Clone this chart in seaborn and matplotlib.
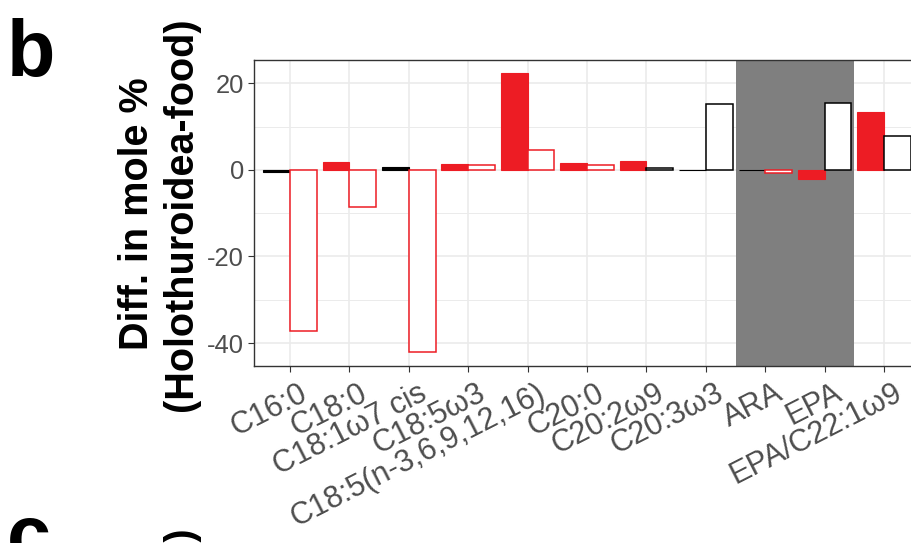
import matplotlib
matplotlib.use("Agg")
import matplotlib.pyplot as plt
from matplotlib.ticker import MultipleLocator
from matplotlib.transforms import ScaledTranslation
import seaborn as sns
import pandas as pd

categories = ["C16:0", "C18:0", "C18:1ω7 cis", "C18:5ω3", "C18:5(n-3,6,9,12,16)",
              "C20:0", "C20:2ω9", "C20:3ω3", "ARA", "EPA", "EPA/C22:1ω9"]
filled_vals = [-0.4, 1.8, 0.6, 1.45, 22.3, 1.6, 2.15, 0.05, 0.05, -2.1, 13.3]
hollow_vals = [-37.1, -8.6, -42.0, 1.15, 4.7, 1.1, 0.5, 15.2, -0.6, 15.4, 7.8]
filled_sig = [False, True, False, True, True, True, True, False, False, True, True]
hollow_sig = [True, True, True, True, True, True, False, False, True, False, False]
shaded_cats = ["ARA", "EPA"]
yticks = [-40, -20, 0, 20]

RED = "#ED1C24"
sns.set_theme(style="white")
plt.rcParams["font.family"] = ["Liberation Sans", "DejaVu Sans"]

df = pd.DataFrame({
    "cat": categories * 2,
    "series": ["filled"] * len(categories) + ["hollow"] * len(categories),
    "value": filled_vals + hollow_vals,
})

fig = plt.figure(figsize=(9.12, 5.43), dpi=100)
ax = fig.add_axes([254 / 912, 1 - 366 / 543, 1 - 254 / 912, (366 - 60) / 543])
ax.set_facecolor("white")

sns.barplot(data=df, x="cat", y="value", hue="series", order=categories,
            hue_order=["filled", "hollow"], width=0.9, dodge=True,
            errorbar=None, legend=False, ax=ax, zorder=3)

# grid (theme_bw)
ax.set_axisbelow(True)
ax.yaxis.set_minor_locator(MultipleLocator(10))
ax.xaxis.grid(True, which="major", color="#EBEBEB", linewidth=1.2)
ax.yaxis.grid(True, which="major", color="#EBEBEB", linewidth=1.2)
ax.yaxis.grid(True, which="minor", color="#EBEBEB", linewidth=0.7)

# shaded region
idx = [categories.index(c) for c in shaded_cats]
ax.axvspan(min(idx) - 0.5, max(idx) + 0.5, color="#7F7F7F", zorder=2, linewidth=0)

cont_f, cont_h = ax.containers[0], ax.containers[1]
for bar, sig in zip(cont_f, filled_sig):
    c = RED if sig else "black"
    bar.set_facecolor(c)
    bar.set_edgecolor(c)
    bar.set_linewidth(0.8)
for bar, sig in zip(cont_h, hollow_sig):
    c = RED if sig else "black"
    bar.set_facecolor("white")
    bar.set_edgecolor(c)
    bar.set_linewidth(1.1)

ax.set_xlim(-0.606, 10.47)
ax.set_ylim(-45.3, 25.4)
ax.set_yticks(yticks)
ax.set_yticklabels([str(v) for v in yticks])
ax.set_xticks(range(len(categories)))
ax.set_xticklabels(categories, rotation=27, ha="right", va="top",
                   rotation_mode="anchor")
ax.tick_params(axis="both", which="major", length=4.1, width=0.8, color="#333333",
               labelcolor="#4D4D4D", pad=3.2, bottom=True, left=True)
ax.tick_params(axis="y", which="major", labelsize=18.4)
ax.tick_params(axis="x", which="major", labelsize=22)
ax.tick_params(axis="y", which="minor", length=0)
off = ScaledTranslation(9 / 100, -2 / 100, fig.dpi_scale_trans)
for lab in ax.get_xticklabels():
    lab.set_transform(lab.get_transform() + off)
ax.set_xlabel("")
ax.set_ylabel("")

for side in ["left", "top", "bottom"]:
    ax.spines[side].set_visible(True)
    ax.spines[side].set_color("#333333")
    ax.spines[side].set_linewidth(1.0)
ax.spines["right"].set_visible(False)

ylabel = "Diff. in mole %\n(Holothuroidea-food)"
fig.text(159 / 912, 1 - 214 / 543, ylabel, rotation=90, ha="center", va="center",
         multialignment="center", fontsize=28.5, fontweight="bold", color="black")
fig.text(7 / 912, 1 - 76 / 543, "b", ha="left", va="baseline",
         fontsize=57, fontweight="bold", color="black")
fig.text(7 / 912, 1 - 561 / 543, "c", ha="left", va="baseline",
         fontsize=57, fontweight="bold", color="black")
fig.text(159 / 912, 1 - 723 / 543, ylabel, rotation=90, ha="center", va="center",
         multialignment="center", fontsize=28.5, fontweight="bold", color="black")

fig.savefig("out.png", dpi=100)
